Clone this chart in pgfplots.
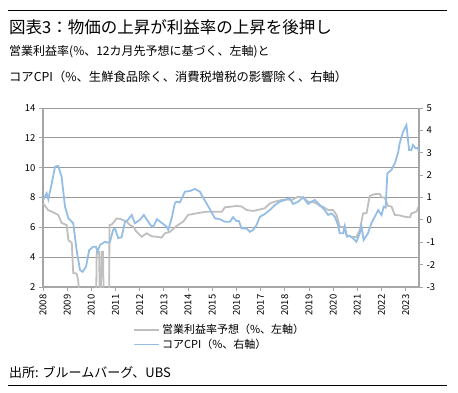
\documentclass[border=0pt]{standalone}
\usepackage{pgfplots}
\pgfplotsset{compat=1.18}
\usepackage{fontspec}
\setmainfont{Noto Sans CJK JP}
\definecolor{grayline}{HTML}{BFBFBF}
\definecolor{blueline}{HTML}{95BEE6}
\definecolor{gridc}{HTML}{9A9A9A}
\definecolor{axc}{HTML}{A6A6A6}
\begin{document}
\begin{tikzpicture}[x=1bp,y=1bp]
\useasboundingbox (0,0) rectangle (458,392);
\draw[line width=1bp] (8,381) -- (447,381);
\node[anchor=west, font=\fontsize{16.5bp}{18bp}\selectfont, inner sep=0] at (9,365) {図表3：物価の上昇が利益率の上昇を後押し};
\node[anchor=west, font=\fontsize{12bp}{14bp}\selectfont, inner sep=0] at (9,340) {営業利益率(\%、12カ月先予想に基づく、左軸)と};
\node[anchor=west, font=\fontsize{12.3bp}{14bp}\selectfont, inner sep=0] at (9,315) {コアCPI（\%、生鮮食品除く、消費税増税の影響除く、右軸）};
\node[anchor=west, font=\fontsize{13bp}{14bp}\selectfont, inner sep=0] at (9,20) {出所: ブルームバーグ、UBS};
\draw[line width=1bp] (8,7) -- (447,7);

\begin{axis}[
  at={(43bp,105bp)}, anchor=south west, scale only axis,
  width=376bp, height=179bp,
  xmin=2008, xmax=2023.55, ymin=2, ymax=14,
  ytick={2,4,...,14}, xtick={2008,2009,...,2023},
  xticklabels={2008,2009,2010,2011,2012,2013,2014,2015,2016,2017,2018,2019,2020,2021,2022,2023},
  xticklabel style={rotate=90, anchor=east},
  axis x line*=bottom, axis y line*=left,
  ymajorgrids, grid style={gridc, line width=0.9bp},
  axis line style={axc, line width=1.2bp},
  tick style={axc, line width=0.9bp}, major tick length=4bp, tick align=outside,
  tick label style={font=\fontsize{9.5bp}{10bp}\selectfont, /pgf/number format/assume math mode=true},
  xtick pos=bottom, ytick pos=left,
  legend style={at={(0.237,-0.19)}, anchor=north west, draw=none, fill=none,
    font=\fontsize{11bp}{12bp}\selectfont, row sep=0bp, inner sep=1bp},
  legend cell align=left,
  legend image code/.code={\draw[#1, line width=1.8bp] (0bp,0bp) -- (25bp,0bp);},
]
\addplot[grayline, line width=1.8bp] coordinates {
(2008.01,7.6) (2008.21,7.16) (2008.43,7.0) (2008.63,6.83) (2008.77,6.3) (2008.98,6.15)
(2009.05,5.15) (2009.19,4.95) (2009.25,2.94) (2009.39,2.9) (2009.45,2.5) (2009.53,1.0)
(2009.8,0) (2010.19,0) (2010.22,4.37) (2010.32,4.37) (2010.36,0) (2010.43,4.37) (2010.48,4.37)
(2010.52,0) (2010.73,0) (2010.75,6.15) (2010.85,6.2) (2011.05,6.6) (2011.22,6.55)
(2011.46,6.38) (2011.6,6.15) (2011.73,6.04) (2011.87,5.7) (2012.08,5.37) (2012.29,5.6)
(2012.49,5.4) (2012.7,5.37) (2012.9,5.31) (2013.04,5.6) (2013.25,5.7) (2013.52,6.09)
(2013.8,6.38) (2014.0,6.83) (2014.35,6.94) (2014.76,7.05) (2015.18,7.05) (2015.4,7.05)
(2015.52,7.34) (2015.73,7.38) (2016.0,7.43) (2016.21,7.4) (2016.42,7.16) (2016.69,7.1)
(2016.97,7.2) (2017.17,7.27) (2017.38,7.6) (2017.59,7.72) (2017.86,7.83) (2018.07,7.87)
(2018.28,7.83) (2018.55,8.05) (2018.76,8.0) (2018.96,7.72) (2019.12,7.72) (2019.31,7.6)
(2019.45,7.43) (2019.58,7.38) (2019.79,7.16) (2020.0,7.16) (2020.14,6.83) (2020.27,6.04)
(2020.41,6.04) (2020.55,5.48) (2020.76,5.37) (2020.96,5.35) (2021.1,5.82) (2021.24,6.94)
(2021.38,6.94) (2021.51,8.1) (2021.72,8.23) (2021.93,8.23) (2022.0,8.0) (2022.13,8.0)
(2022.27,7.43) (2022.41,7.4) (2022.55,6.83) (2022.75,6.8) (2022.96,6.71) (2023.17,6.67)
(2023.24,6.94) (2023.44,7.05) (2023.55,7.43)
};
\addlegendentry{営業利益率予想（\%、左軸）}
\addlegendimage{color=blueline}
\addlegendentry{コアCPI（\%、右軸）}
\end{axis}

\begin{axis}[
  at={(43bp,105bp)}, anchor=south west, scale only axis,
  width=376bp, height=179bp,
  xmin=2008, xmax=2023.55, ymin=-3, ymax=5,
  ytick={-3,-2,...,5}, yticklabels={-3,-2,-1,0,1,2,3,4,5},
  axis x line=none, axis y line*=right,
  axis line style={axc, line width=1.2bp},
  tick style={axc, line width=0.9bp}, major tick length=4bp, tick align=outside,
  tick label style={font=\fontsize{9.5bp}{10bp}\selectfont},
  ytick pos=right,
]
\addplot[blueline, line width=1.8bp] coordinates {
(2008.01,0.89) (2008.15,1.19) (2008.22,0.92) (2008.36,1.63) (2008.5,2.38) (2008.63,2.41)
(2008.77,1.93) (2008.91,0.59) (2009.05,0.07) (2009.25,-0.15) (2009.39,-1.35) (2009.53,-2.24)
(2009.64,-2.32) (2009.78,-2.09) (2009.91,-1.35) (2010.08,-1.2) (2010.19,-1.2) (2010.25,-1.42)
(2010.36,-1.12) (2010.56,-0.98) (2010.67,-1.02) (2010.77,-0.98) (2010.9,-0.45) (2010.98,-0.38)
(2011.11,-0.82) (2011.25,-0.77) (2011.39,-0.08) (2011.51,0.0) (2011.67,0.22) (2011.8,-0.15)
(2012.0,0.0) (2012.17,0.22) (2012.35,-0.08) (2012.46,-0.25) (2012.56,-0.31) (2012.71,0.03)
(2012.97,-0.18) (2013.11,-0.3) (2013.18,-0.45) (2013.32,0.07) (2013.45,0.74) (2013.52,0.81)
(2013.66,0.78) (2013.87,1.26) (2014.07,1.29) (2014.28,1.38) (2014.49,1.26) (2014.69,0.87)
(2014.9,0.48) (2015.11,0.07) (2015.31,0.03) (2015.52,-0.08) (2015.73,-0.08) (2015.86,0.12)
(2016.0,-0.05) (2016.1,-0.05) (2016.21,-0.38) (2016.42,-0.38) (2016.55,-0.53) (2016.69,-0.45)
(2016.83,-0.23) (2016.97,0.14) (2017.17,0.26) (2017.38,0.44) (2017.59,0.66) (2017.79,0.81)
(2018.0,0.89) (2018.21,0.96) (2018.34,0.71) (2018.55,0.81) (2018.76,1.01) (2018.96,0.71)
(2019.1,0.81) (2019.24,0.89) (2019.45,0.66) (2019.65,0.44) (2019.79,0.22) (2019.93,0.29)
(2020.07,0.14) (2020.2,-0.23) (2020.27,-0.6) (2020.41,-0.6) (2020.48,-0.27) (2020.57,-0.75)
(2020.69,-0.72) (2020.82,-0.82) (2020.96,-0.98) (2021.1,-0.6) (2021.17,-0.27) (2021.26,-0.9)
(2021.44,-0.6) (2021.58,-0.15) (2021.72,0.14) (2021.86,0.44) (2022.0,0.22) (2022.09,0.59)
(2022.17,0.55) (2022.24,2.08) (2022.41,2.23) (2022.55,2.53) (2022.68,2.98) (2022.75,3.42)
(2022.89,3.94) (2023.03,4.24) (2023.14,3.12) (2023.23,3.12) (2023.3,3.35) (2023.41,3.2)
(2023.5,3.22) (2023.55,3.05)
};
\end{axis}
\end{tikzpicture}
\end{document}
